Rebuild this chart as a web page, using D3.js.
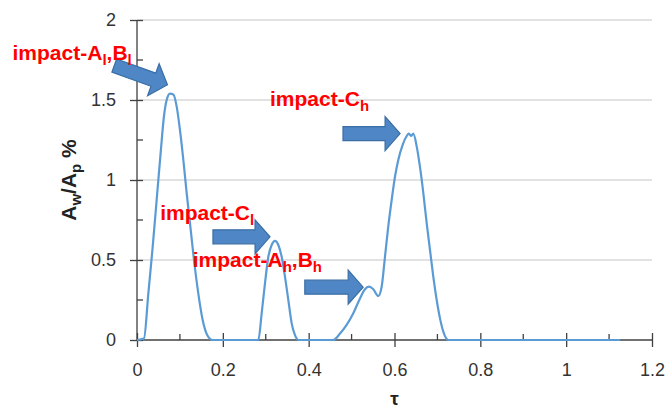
<!DOCTYPE html>
<html><head><meta charset="utf-8">
<script src="https://cdn.jsdelivr.net/npm/d3@7"></script>
<style>
body{margin:0;background:#fff;}
svg{display:block;font-family:"Liberation Sans",Arial,sans-serif;}
</style></head>
<body><svg id="c" width="667" height="412"></svg>
<script>
// ---- data ----
const tau = [0,0.0163,0.0264,0.0365,0.0458,0.0551,0.0629,0.0691,0.0769,0.0847,0.0924,0.1002,0.1080,0.1157,0.1235,0.1328,0.1429,0.1530,0.1638,0.1763,
  0.2827,0.2905,0.2982,0.3060,0.3138,0.3215,0.3293,0.3371,0.3448,0.3526,0.3604,0.3681,0.3759,
  0.4574,0.4730,0.4885,0.5040,0.5196,0.5312,0.5405,0.5506,0.5622,0.5701,0.5778,0.5855,0.5934,0.6011,0.6088,0.6190,0.6284,0.6337,0.6384,0.6438,0.6517,0.6594,0.6671,0.6750,0.6827,0.6904,0.6983,0.7060,0.7137,0.7253,1.126];
const ratio = [0,0.01,0.29,0.58,0.875,1.17,1.40,1.50,1.54,1.535,1.46,1.31,1.125,0.92,0.73,0.50,0.29,0.125,0.03,0,
  0,0.167,0.354,0.52,0.594,0.619,0.594,0.52,0.396,0.25,0.104,0.03,0,
  0,0.04,0.094,0.167,0.26,0.317,0.333,0.317,0.275,0.333,0.52,0.71,0.875,1.02,1.125,1.22,1.275,1.29,1.275,1.29,1.21,1.08,0.92,0.73,0.5625,0.396,0.25,0.135,0.052,0,0];
const xTicks = [0,0.2,0.4,0.6,0.8,1,1.2];
const xMinor = [0.1,0.3,0.5,0.7,0.9,1.1];
const yTicks = [0,0.5,1,1.5,2];
const yMinor = [0.25,0.75,1.25,1.75];
// annotations: arrow tail/tip and label anchor in data units
const annLabels = [
  {parts:[["impact-A",0],["l",1],[",B",0],["l",1]], t:-0.290, v:1.75},
  {parts:[["impact-C",0],["l",1]], t:0.054, v:0.75},
  {parts:[["impact-A",0],["h",1],[",B",0],["h",1]], t:0.130, v:0.456},
  {parts:[["impact-C",0],["h",1]], t:0.310, v:1.4625}
];
const annArrows = [
  {t0:-0.053, v0:1.715, t1:0.071, v1:1.595},
  {t0:0.177, v0:0.645, t1:0.310, v1:0.645},
  {t0:0.391, v0:0.33, t1:0.527, v1:0.33},
  {t0:0.480, v0:1.29, t1:0.613, v1:1.29}
];

// ---- chart ----
const svg = d3.select("#c");
const x = d3.scaleLinear().domain([0,1.2]).range([137,652]);
const y = d3.scaleLinear().domain([0,2]).range([340,20]);

// gridlines
svg.append("g").selectAll("line").data(yTicks.filter(d=>d>0)).join("line")
  .attr("x1",x(0)).attr("x2",x(1.2)).attr("y1",d=>y(d)).attr("y2",d=>y(d))
  .attr("stroke","#d9d9d9").attr("stroke-width",1.3);

// axes
const axCol = "#404040";
const xAxis = svg.append("g").attr("transform",`translate(0,${y(0)})`)
  .call(d3.axisBottom(x).tickValues(xTicks).tickSize(7).tickFormat(d3.format("~g")));
xAxis.selectAll(".tick line").attr("stroke",axCol).attr("y1",-7).attr("y2",7).attr("stroke-width",1.3);
xAxis.selectAll(".tick text").attr("fill","#333").attr("font-size",18).attr("y",23).attr("dy","0.71em");
svg.append("g").selectAll("line").data(xMinor).join("line")
  .attr("x1",d=>x(d)).attr("x2",d=>x(d)).attr("y1",y(0)-6).attr("y2",y(0))
  .attr("stroke",axCol).attr("stroke-width",1.3);

const yAxis = svg.append("g").attr("transform",`translate(${x(0)},0)`)
  .call(d3.axisLeft(y).tickValues(yTicks).tickSize(7).tickFormat(d3.format("~g")));
yAxis.selectAll(".tick line").attr("stroke",axCol).attr("x1",-7).attr("x2",6).attr("stroke-width",1.3);
yAxis.selectAll(".tick text").attr("fill","#333").attr("font-size",18).attr("x",-21);
svg.append("g").selectAll("line").data(yMinor).join("line")
  .attr("x1",x(0)).attr("x2",x(0)+6).attr("y1",d=>y(d)).attr("y2",d=>y(d))
  .attr("stroke",axCol).attr("stroke-width",1.3);
// plain axis lines (no outer ticks)
xAxis.select(".domain").remove(); yAxis.select(".domain").remove();
svg.append("line").attr("x1",x(0)).attr("x2",x(1.2)).attr("y1",y(0)).attr("y2",y(0)).attr("stroke",axCol).attr("stroke-width",1.3);
svg.append("line").attr("x1",x(0)).attr("x2",x(0)).attr("y1",y(0)).attr("y2",y(2)).attr("stroke",axCol).attr("stroke-width",1.3);

// series
const pts = tau.map((t,i)=>[t,ratio[i]]);
svg.append("path").datum(pts)
  .attr("d",d3.line().x(d=>x(d[0])).y(d=>y(d[1])).curve(d3.curveMonotoneX))
  .attr("fill","none").attr("stroke","#5b9bd5").attr("stroke-width",2.2).attr("stroke-linejoin","round");

// axis titles
svg.append("text").attr("x",(x(0)+x(1.2))/2).attr("y",405).attr("text-anchor","middle")
  .attr("font-size",19).attr("font-weight","bold").attr("fill","#222").text("τ");
const yt = svg.append("text").attr("transform",`translate(76,${(y(0)+y(2))/2}) rotate(-90)`)
  .attr("text-anchor","middle").attr("font-size",21).attr("font-weight","bold").attr("fill","#222");
[["A",0],["w",1],["/A",0],["p",1],[" %",0]].forEach(([s,sub],i,arr)=>{
  const prev = i>0 ? arr[i-1][1] : 0;
  yt.append("tspan").attr("font-size",sub?15:21).attr("dy",(sub-prev)*5).text(s);
});

// arrows
const shaftH=14, headH=34, headL=15;
annArrows.forEach(a=>{
  const x0=x(a.t0), y0=y(a.v0), x1=x(a.t1), y1=y(a.v1);
  const L=Math.hypot(x1-x0,y1-y0), ang=Math.atan2(y1-y0,x1-x0)*180/Math.PI;
  const p=[[0,-shaftH/2],[L-headL,-shaftH/2],[L-headL,-headH/2],[L,0],[L-headL,headH/2],[L-headL,shaftH/2],[0,shaftH/2]];
  svg.append("polygon").attr("points",p.map(q=>q.join(",")).join(" "))
    .attr("transform",`translate(${x0},${y0}) rotate(${ang})`)
    .attr("fill","#4f86c6").attr("stroke","#3a6ea5").attr("stroke-width",1.2);
});

// labels
annLabels.forEach(l=>{
  const t = svg.append("text").attr("x",x(l.t)).attr("y",y(l.v))
    .attr("font-size",21).attr("font-weight","bold").attr("fill","#ff0000");
  l.parts.forEach(([s,sub],i,arr)=>{
    const prev = i>0 ? arr[i-1][1] : 0;
    t.append("tspan").attr("font-size",sub?15:21).attr("dy",(sub-prev)*5).text(s);
  });
});
</script></body></html>
